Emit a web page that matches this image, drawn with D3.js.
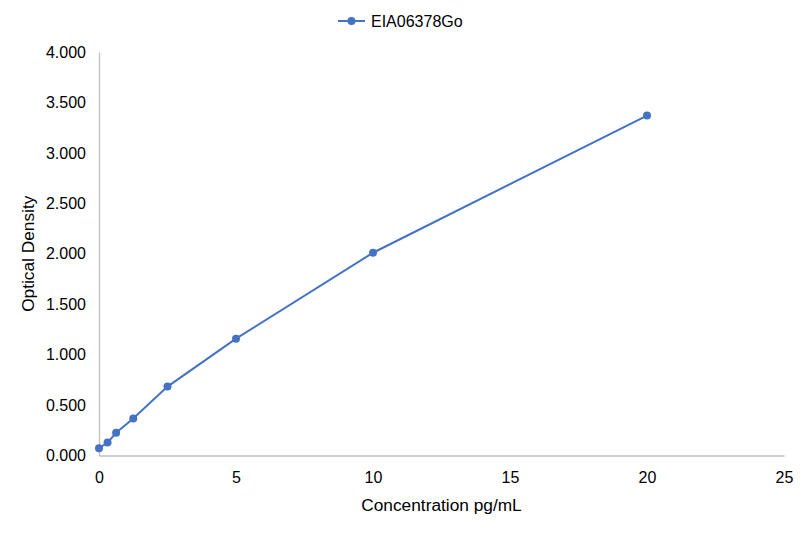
<!DOCTYPE html>
<html>
<head>
<meta charset="utf-8">
<script src="https://cdn.jsdelivr.net/npm/d3@7"></script>
<style>
  body { margin: 0; background: #fff; }
  text { font-family: "Liberation Sans", Arial, sans-serif; fill: #000; }
</style>
</head>
<body>
<div id="chart"></div>
<script>
const width = 801;
const height = 533;

const seriesName = "EIA06378Go";
const concentrations = [0, 0.3125, 0.625, 1.25, 2.5, 5, 10, 20];
const densities = [0.072, 0.128, 0.225, 0.366, 0.683, 1.158, 2.010, 3.370];
const xTicks = [0, 5, 10, 15, 20, 25];
const yTicks = [0, 0.5, 1, 1.5, 2, 2.5, 3, 3.5, 4];

const margin = { left: 99, right: 17, top: 52, bottom: 77.5 };
const color = "#4472c4";

const svg = d3.select("#chart")
    .append("svg")
    .attr("width", width)
    .attr("height", height);

const x = d3.scaleLinear()
    .domain([0, 25])
    .range([margin.left, width - margin.right]);

const y = d3.scaleLinear()
    .domain([0, 4])
    .range([height - margin.bottom, margin.top]);

// axes
const xAxis = svg.append("g")
    .attr("transform", `translate(0,${y(0)})`)
    .call(d3.axisBottom(x).tickValues(xTicks).tickSize(0).tickPadding(16));

const yAxis = svg.append("g")
    .attr("transform", `translate(${x(0)},0)`)
    .call(d3.axisLeft(y).tickValues(yTicks).tickSize(0).tickPadding(13)
        .tickFormat(d3.format(".3f")));

[xAxis, yAxis].forEach(g => {
    g.select(".domain").attr("stroke", "#bfbfbf").attr("stroke-width", 1.3);
    g.selectAll("text")
        .style("font-family", "'Liberation Sans', Arial, sans-serif")
        .style("font-size", "16px")
        .attr("fill", "#000");
});

// axis titles
svg.append("text")
    .attr("x", (x(0) + x(25)) / 2)
    .attr("y", 511)
    .attr("text-anchor", "middle")
    .style("font-size", "17.3px")
    .text("Concentration pg/mL");

svg.append("text")
    .attr("transform", `translate(34,${(y(0) + y(4)) / 2}) rotate(-90)`)
    .attr("text-anchor", "middle")
    .style("font-size", "17.3px")
    .text("Optical Density");

// series
const points = concentrations.map((c, i) => ({ c, d: densities[i] }));

svg.append("path")
    .datum(points)
    .attr("fill", "none")
    .attr("stroke", color)
    .attr("stroke-width", 2)
    .attr("d", d3.line().x(p => x(p.c)).y(p => y(p.d)));

svg.selectAll("circle.pt")
    .data(points)
    .enter()
    .append("circle")
    .attr("class", "pt")
    .attr("cx", p => x(p.c))
    .attr("cy", p => y(p.d))
    .attr("r", 4)
    .attr("fill", color);

// legend
const legend = svg.append("g").attr("transform", "translate(338,21)");
legend.append("line")
    .attr("x1", 0).attr("x2", 27)
    .attr("stroke", color).attr("stroke-width", 2);
legend.append("circle")
    .attr("cx", 13.5).attr("r", 4).attr("fill", color);
legend.append("text")
    .attr("x", 33).attr("y", 5.5)
    .style("font-size", "16px")
    .text(seriesName);
</script>
</body>
</html>
